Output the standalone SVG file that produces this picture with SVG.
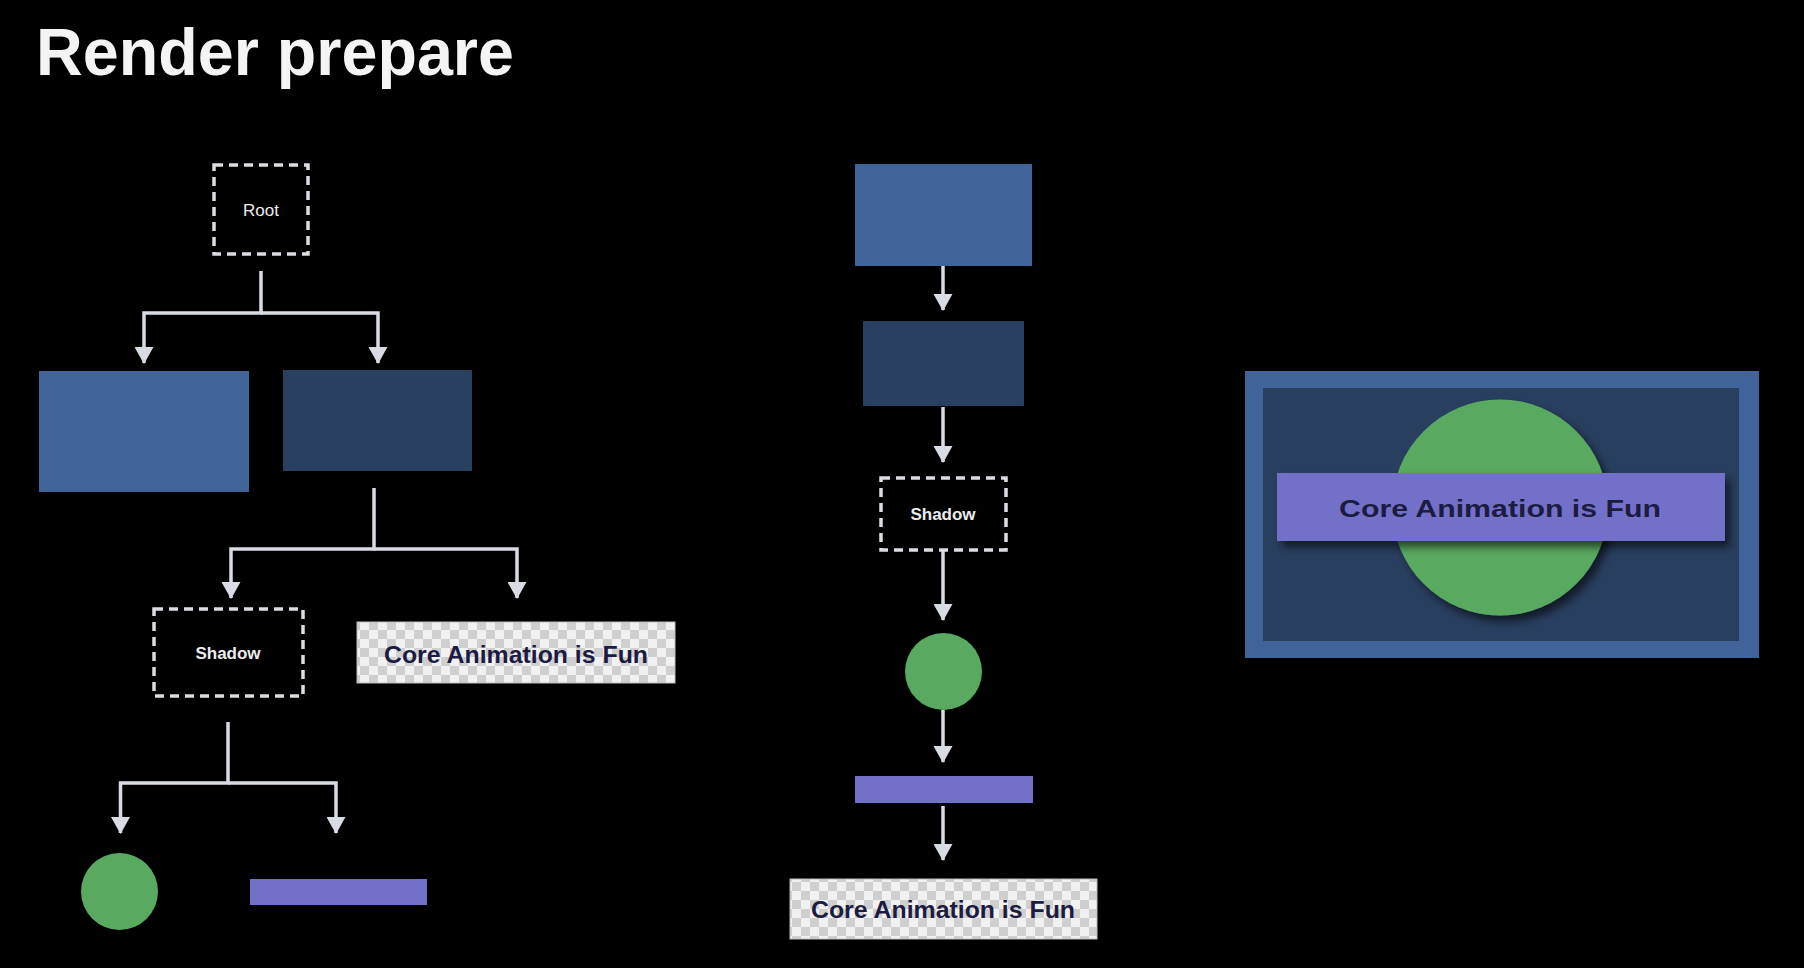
<svg xmlns="http://www.w3.org/2000/svg" width="1804" height="968" viewBox="0 0 1804 968">
<style>
.title{font-family:"Liberation Sans",Arial,sans-serif;font-weight:bold;font-size:67px;fill:#f4f4f4}
.lbl{font-family:"Liberation Sans",Arial,sans-serif;font-size:17px;fill:#ececf0;text-anchor:middle}
.ca{font-family:"Liberation Sans",Arial,sans-serif;font-weight:bold;font-size:24px;fill:#1c1b42;text-anchor:middle}
.dash{fill:#000;stroke:#dcdde3;stroke-width:3.5;stroke-dasharray:9 6}
.blue{fill:#40649a}
.dark{fill:#293f60}
.green{fill:#5aa960}
.purple{fill:#7370c9}
.chk{fill:url(#checker);stroke:#bdbdbd;stroke-width:1}
.conn{fill:none;stroke:#d8dbe3;stroke-width:3.5;marker-end:url(#arr)}
</style>
<defs>
<pattern id="checker" width="18" height="18" patternUnits="userSpaceOnUse">
<rect width="18" height="18" fill="#f1f1f1"/>
<rect width="9" height="9" fill="#cfcfcf"/>
<rect x="9" y="9" width="9" height="9" fill="#cfcfcf"/>
</pattern>
<marker id="arr" viewBox="0 0 17 19" refX="16" refY="9.5" markerWidth="17" markerHeight="19" markerUnits="userSpaceOnUse" orient="auto">
<path d="M0,0 L17,9.5 L0,19 z" fill="#d8dbe3"/>
</marker>
<filter id="sh" x="-20%" y="-20%" width="150%" height="150%">
<feDropShadow dx="5" dy="6" stdDeviation="4" flood-color="#000" flood-opacity="0.6"/>
</filter>
</defs>
<rect width="1804" height="968" fill="#000"/>
<text class="title" x="36" y="75" textLength="478" lengthAdjust="spacingAndGlyphs">Render prepare</text>

<g id="connectors">
<path class="conn" d="M261,271 V313 H144 V363"/>
<path class="conn" d="M261,313 H378 V363"/>
<path class="conn" d="M374,488 V549 H231 V598"/>
<path class="conn" d="M374,549 H517 V598"/>
<path class="conn" d="M228,722 V783 H120.5 V833"/>
<path class="conn" d="M228,783 H336 V833"/>
<path class="conn" d="M943,266 V310"/>
<path class="conn" d="M943,407 V462"/>
<path class="conn" d="M943,551 V620"/>
<path class="conn" d="M943,710 V762"/>
<path class="conn" d="M943,806 V860"/>
</g>

<g id="root"><rect class="dash" x="214" y="165" width="94" height="89"/><text class="lbl" x="261" y="216">Root</text></g>
<g id="left-blue"><rect class="blue" x="39" y="371" width="210" height="121"/></g>
<g id="left-dark"><rect class="dark" x="283" y="370" width="189" height="101"/></g>
<g id="left-shadow"><rect class="dash" x="154" y="609" width="149" height="87"/><text class="lbl" x="228" y="659" font-weight="600">Shadow</text></g>
<g id="left-text"><rect class="chk" x="357" y="622" width="318" height="61"/><text class="ca" x="516" y="663" textLength="264" lengthAdjust="spacingAndGlyphs">Core Animation is Fun</text></g>
<g id="left-circle"><circle class="green" cx="119.5" cy="891.5" r="38.5"/></g>
<g id="left-bar"><rect class="purple" x="250" y="879" width="177" height="26"/></g>

<g id="mid-blue"><rect class="blue" x="855" y="164" width="177" height="102"/></g>
<g id="mid-dark"><rect class="dark" x="863" y="321" width="161" height="85"/></g>
<g id="mid-shadow"><rect class="dash" x="881" y="478" width="125" height="72"/><text class="lbl" x="943" y="520" font-weight="600">Shadow</text></g>
<g id="mid-circle"><circle class="green" cx="943.5" cy="671.5" r="38.5"/></g>
<g id="mid-bar"><rect class="purple" x="855" y="776" width="178" height="27"/></g>
<g id="mid-text"><rect class="chk" x="790" y="879" width="307" height="60"/><text class="ca" x="943" y="918" textLength="264" lengthAdjust="spacingAndGlyphs">Core Animation is Fun</text></g>

<g id="composite">
<rect class="blue" x="1245" y="371" width="514" height="287"/>
<rect class="dark" x="1263" y="388" width="476" height="253"/>
<circle class="green" cx="1500" cy="507.5" r="108" filter="url(#sh)"/>
<rect class="purple" x="1277" y="473" width="448" height="68" filter="url(#sh)"/>
<text class="ca" x="1500" y="517" font-size="30" textLength="322" lengthAdjust="spacingAndGlyphs">Core Animation is Fun</text>
</g>
</svg>
